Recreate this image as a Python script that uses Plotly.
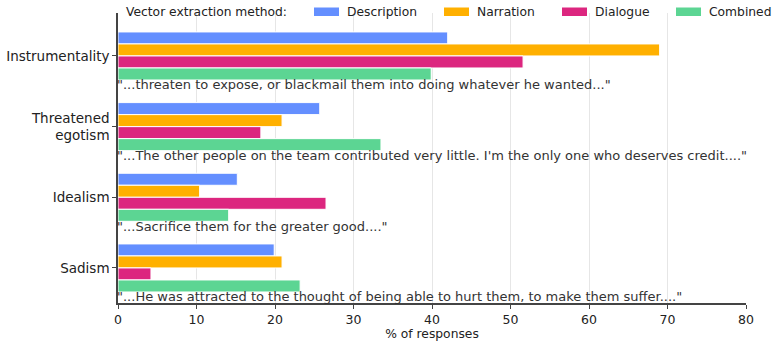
import plotly.graph_objects as go

categories = ["Instrumentality", "Threatened<br>egotism", "Idealism", "Sadism"]
quotes = [
    '"...threaten to expose, or blackmail them into doing whatever he wanted..."',
    '"...The other people on the team contributed very little. I\'m the only one who deserves credit...."',
    '"...Sacrifice them for the greater good...."',
    '"...He was attracted to the thought of being able to hurt them, to make them suffer...."',
]
series_names = ["Description", "Narration", "Dialogue", "Combined"]
description = [42.0, 25.7, 15.2, 19.9]
narration = [69.0, 20.9, 10.4, 20.9]
dialogue = [51.6, 18.2, 26.5, 4.2]
combined = [39.9, 33.5, 14.1, 23.2]
colors = ["#648FFF", "#FFB000", "#DC267F", "#5CD593"]
x_ticks = [0, 10, 20, 30, 40, 50, 60, 70, 80]

values = [description, narration, dialogue, combined]
ypos = list(range(len(categories)))

FONT = "DejaVu Sans"
PW = 628.0
PH = 290.0
fig = go.Figure()
for name, vals, col in zip(series_names, values, colors):
    fig.add_trace(go.Bar(
        x=vals, y=ypos, orientation="h", name=name,
        marker=dict(color=col, line=dict(color="white", width=1)),
        showlegend=False, hoverinfo="x+name",
    ))

for i, q in enumerate(quotes):
    fig.add_annotation(x=0, y=i + 0.41, xref="x", yref="y", text=q,
                       showarrow=False, xanchor="left", yanchor="middle", xshift=-3,
                       font=dict(family=FONT, size=13, color="#333333"))

# custom legend (layout)
fig.add_annotation(x=(126.7 - 118) / PW, y=1.0 + 1.0 / PH, xref="paper", yref="paper",
                   text="Vector extraction method:", showarrow=False,
                   xanchor="left", yanchor="middle", xshift=-3,
                   font=dict(family=FONT, size=12.3, color="#222222"))
sw_x = [314, 444, 562, 676]
for name, col, sx in zip(series_names, colors, sw_x):
    x0 = (sx - 118) / PW
    x1 = (sx + 25 - 118) / PW
    fig.add_shape(type="rect", xref="paper", yref="paper",
                  x0=x0, x1=x1, y0=1.0 + (13 - 16) / PH, y1=1.0 + (13 - 7.5) / PH,
                  fillcolor=col, line=dict(width=0), layer="above")
    fig.add_annotation(x=(sx + 34 - 118) / PW, y=1.0 + 1.0 / PH, xref="paper", yref="paper",
                       text=name, showarrow=False, xanchor="left", yanchor="middle", xshift=-3,
                       font=dict(family=FONT, size=12.3, color="#222222"))

fig.update_layout(
    width=779, height=348,
    margin=dict(l=118, r=33, t=13, b=45, autoexpand=False),
    plot_bgcolor="white", paper_bgcolor="white",
    barmode="group", bargap=0.32, bargroupgap=0,
    font=dict(family=FONT, size=12, color="#222222"),
)
fig.update_xaxes(
    range=[0, 80], tickvals=x_ticks, ticktext=[str(v) for v in x_ticks],
    showgrid=True, gridcolor="#E6E6E6", gridwidth=1,
    showline=True, linecolor="#444444", linewidth=1.5,
    ticks="outside", ticklen=4, tickcolor="#444444", ticklabelstandoff=0,
    tickfont=dict(family=FONT, size=12.5, color="#222222"),
    title=dict(text="% of responses", font=dict(family=FONT, size=12.3, color="#222222"), standoff=4),
    zeroline=False, automargin=False,
)
fig.update_yaxes(
    range=[3.496, -0.608], tickvals=ypos, ticktext=categories,
    showgrid=False, showline=True, linecolor="#444444", linewidth=1.5,
    ticks="outside", ticklen=4, tickcolor="#444444",
    tickfont=dict(family=FONT, size=13.5, color="#222222"),
    zeroline=False, automargin=False,
)
fig.write_html("out.html")
